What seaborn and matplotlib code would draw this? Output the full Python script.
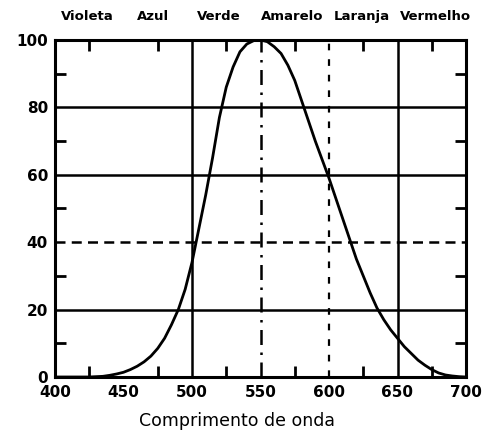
import matplotlib
matplotlib.use("Agg")
import matplotlib.pyplot as plt
import seaborn as sns
import pandas as pd
from matplotlib.ticker import FixedLocator

# Data
wavelength = [400, 425, 430, 435, 440, 445, 450, 455, 460, 465, 470, 475, 480, 485,
              490, 495, 500, 505, 510, 515, 520, 525, 530, 535, 540, 545, 550,
              555, 560, 565, 570, 575, 580, 585, 590, 595, 600, 605, 610, 615,
              620, 625, 630, 635, 640, 645, 650, 655, 660, 665, 670, 675, 680,
              685, 690, 695, 700]
luminosity = [0, 0, 0.1, 0.2, 0.5, 0.9, 1.4, 2.2, 3.2, 4.5, 6.2, 8.5, 11.5, 15.5,
              20, 26, 34, 44, 54, 65, 77, 86, 92, 96.5, 98.8, 99.8, 100,
              99.5, 98, 96, 92.5, 88, 82, 76, 70, 64.5, 59, 53, 47, 41,
              35, 30, 25, 20.5, 17, 14, 11.5, 9, 7, 5, 3.5, 2.2, 1.2,
              0.6, 0.3, 0.1, 0]
color_names = ["Violeta", "Azul", "Verde", "Amarelo", "Laranja", "Vermelho"]
color_name_x = [87, 153, 219, 292, 362, 436]  # pixel centres across the top
x_ticks = [400, 450, 500, 550, 600, 650, 700]
y_ticks = [0, 20, 40, 60, 80, 100]

df = pd.DataFrame({"wavelength": wavelength, "luminosity": luminosity})

sns.set_theme(style="white")
plt.rcParams["font.family"] = ["DejaVu Sans"]

W, H = 487, 434
fig = plt.figure(figsize=(W / 100, H / 100), dpi=100)
ax = fig.add_axes([55 / W, 1 - 377 / H, (466 - 55) / W, (377 - 40) / H])

# grid lines
for yv in [20, 60, 80]:
    ax.axhline(yv, color="black", lw=1.8, zorder=1)
ax.axhline(40, color="black", lw=1.8, ls=(0, (4, 2.5)), zorder=1)
ax.axvline(500, color="black", lw=1.8, zorder=1)
ax.axvline(650, color="black", lw=1.8, zorder=1)
ax.axvline(550, color="black", lw=1.8, ls=(0, (6, 3, 1, 3)), zorder=1)
ax.axvline(600, color="black", lw=1.6, ls=(0, (3, 4)), zorder=1)

sns.lineplot(data=df, x="wavelength", y="luminosity", color="black", lw=2.0, ax=ax, zorder=3)

ax.set_xlim(400, 700)
ax.set_ylim(0, 100)
ax.xaxis.set_major_locator(FixedLocator(x_ticks))
ax.yaxis.set_major_locator(FixedLocator(y_ticks))
ax.xaxis.set_minor_locator(FixedLocator([425, 475, 525, 575, 625, 675]))
ax.yaxis.set_minor_locator(FixedLocator([10, 30, 50, 70, 90]))
ax.tick_params(axis="x", which="major", length=0, pad=6, labelsize=11)
ax.tick_params(axis="y", which="major", length=0, pad=5, labelsize=11)
ax.tick_params(which="minor", direction="in", length=8, width=2, color="black",
               top=True, right=True, bottom=True, left=True)
for lab in ax.get_xticklabels() + ax.get_yticklabels():
    lab.set_fontweight("bold")
    lab.set_color("black")

for sp in ax.spines.values():
    sp.set_linewidth(2.2)
    sp.set_color("black")

ax.set_xlabel("Comprimento de onda", fontsize=12.5, color="black")
ax.xaxis.set_label_coords((237 - 55) / 411, -(421 - 377) / 337)
ax.xaxis.label.set_va("center")
ax.set_ylabel("")

for name, px in zip(color_names, color_name_x):
    fig.text(px / W, 1 - 20 / H, name, ha="center", va="baseline",
             fontsize=9.5, fontweight="bold", color="black")

fig.savefig("out.png", dpi=100, facecolor="white")
